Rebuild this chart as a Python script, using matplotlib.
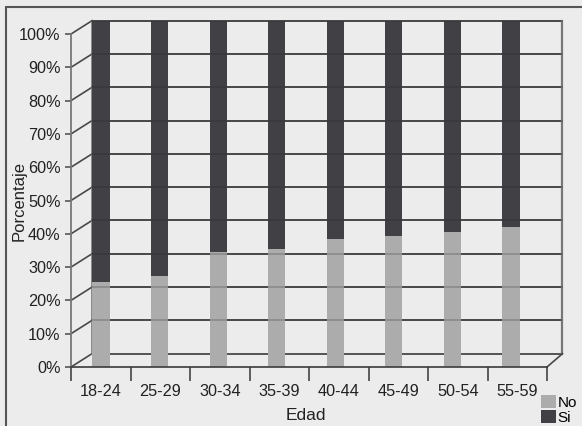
import numpy as np
import matplotlib
matplotlib.use('Agg')
import matplotlib.pyplot as plt
from matplotlib.patches import Rectangle, Patch

plt.rcParams['font.family'] = ['Liberation Sans', 'DejaVu Sans']

edades = ['18-24', '25-29', '30-34', '35-39', '40-44', '45-49', '50-54', '55-59']
no_pct = [24.6, 26.3, 33.1, 34.1, 37.0, 37.8, 39.1, 40.4]
si_pct = [100 - v for v in no_pct]
yticks = list(range(0, 101, 10))

c_no = '#acacac'
c_si = '#414045'
c_bg = '#ececec'
c_grid = '#484848'

# fake 3d: back wall shifted right/up from the front axis
wall_x0, wall_x1 = 0.353, 8.26
depth = 4.0
scale = (100 + depth) / 100.0

fig = plt.figure(figsize=(5.82, 4.26), dpi=100, facecolor=c_bg)
ax = fig.add_axes([71 / 582, 59 / 426, 476 / 582, 346.3 / 426])
ax.set_facecolor('none')
ax.set_xlim(0, 8)
ax.set_ylim(0, 100 + depth)

# outer frame
fig.patches.append(Rectangle((6 / 582, -0.05), 1.1, 1 - 7 / 426 + 0.05,
                             transform=fig.transFigure, fill=False,
                             edgecolor='#555555', lw=1.5, zorder=0))

# walls and gridlines
for y in yticks:
    ax.plot([wall_x0, wall_x1], [y + depth, y + depth], color=c_grid, lw=1.3, zorder=1,
            clip_on=False)
    ax.plot([0, wall_x0], [y, y + depth], color=c_grid, lw=1.2, zorder=1, clip_on=False)
ax.plot([wall_x0, wall_x0], [depth, 100 + depth], color='#777777', lw=1.2, zorder=1)
ax.plot([wall_x1, wall_x1], [depth, 100 + depth], color='#777777', lw=1.6, zorder=1,
        clip_on=False)
ax.plot([8, wall_x1], [0, depth], color=c_grid, lw=1.2, zorder=1, clip_on=False)

# stacked bars
pos = 0.505 + np.arange(len(edades)) * 0.984
no_h = np.array(no_pct) * scale
si_h = np.array(si_pct) * scale
ax.bar(pos, no_h, width=0.29, color=c_no, zorder=2, label='No')
ax.bar(pos, si_h, bottom=no_h, width=0.29, color=c_si, zorder=2, label='Si')

# gridlines faintly visible through the columns
for y in yticks[1:]:
    ax.plot([wall_x0, wall_x1], [y + depth, y + depth], color='#222222', lw=1.2,
            alpha=0.25, zorder=3, clip_on=False)

for s in ['top', 'right']:
    ax.spines[s].set_visible(False)
ax.spines['left'].set_bounds(0, 100)
ax.spines['left'].set_color('#777777')
ax.spines['left'].set_linewidth(1.3)
ax.spines['bottom'].set_color('#3a3a3a')
ax.spines['bottom'].set_linewidth(1.2)

ax.set_yticks(yticks)
ax.set_yticklabels([f'{v}%' for v in yticks])
ax.tick_params(axis='y', length=4.5, width=1.2, color='#555555', pad=3,
               labelsize=11.7, labelcolor='#222222')
ax.set_xticks(np.arange(9))
ax.set_xticklabels([])
ax.tick_params(axis='x', which='major', length=10, width=1.2, color='#444444')
ax.set_xticks(np.arange(8) + 0.5, minor=True)
ax.set_xticklabels(edades, minor=True)
ax.tick_params(axis='x', which='minor', length=0, pad=12, labelsize=11.7,
               labelcolor='#222222')

fig.text(19 / 582, 1 - 201 / 426, 'Porcentaje', rotation=90, ha='center', va='center',
         fontsize=12, color='#222222')
fig.text(306 / 582, 1 - 416 / 426, 'Edad', ha='center', va='center',
         fontsize=12.5, color='#222222')

handles = [Patch(facecolor=c_no), Patch(facecolor=c_si)]
fig.legend(handles, ['No', 'Si'], loc='upper left',
           bbox_to_anchor=(541 / 582, 1 - 395 / 426), frameon=False,
           borderpad=0, borderaxespad=0, handlelength=1.0, handleheight=0.95,
           handletextpad=0.1, labelspacing=0.0, fontsize=11)

fig.savefig('out.png', dpi=100, facecolor=c_bg)
